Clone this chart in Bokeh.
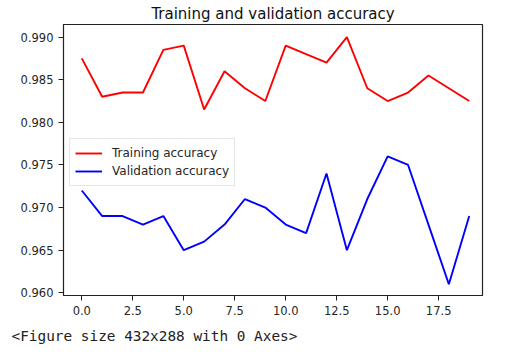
from bokeh.plotting import figure
from bokeh.models import Range1d, FixedTicker, NumeralTickFormatter, Legend, LegendItem, Title
from bokeh.embed import file_html
from bokeh.resources import INLINE

epochs = list(range(20))
train_acc = [0.9875, 0.983, 0.9835, 0.9835, 0.9885, 0.989, 0.9815, 0.986, 0.984, 0.9825,
             0.989, 0.988, 0.987, 0.990, 0.984, 0.9825, 0.9835, 0.9855, 0.984, 0.9825]
val_acc = [0.972, 0.969, 0.969, 0.968, 0.969, 0.965, 0.966, 0.968, 0.971, 0.970,
           0.968, 0.967, 0.974, 0.965, 0.971, 0.976, 0.975, 0.968, 0.961, 0.969]
x_ticks = [0.0, 2.5, 5.0, 7.5, 10.0, 12.5, 15.0, 17.5]
y_ticks = [0.960, 0.965, 0.970, 0.975, 0.980, 0.985, 0.990]

p = figure(width=500, height=354, output_backend="svg", toolbar_location=None,
           x_range=Range1d(-0.897, 19.65), y_range=Range1d(0.95968, 0.99148),
           min_border_left=63, min_border_right=18, min_border_top=23, min_border_bottom=59)
p.title.text = "Training and validation accuracy"
p.title.align = "center"
p.title.text_font = "DejaVu Sans"
p.title.text_font_size = "15px"
p.title.text_font_style = "normal"
p.title.text_color = "#111111"
p.title.standoff = 4

l1 = p.line(epochs, train_acc, line_color="#ff0000", line_width=1.9)
l2 = p.line(epochs, val_acc, line_color="#0000ff", line_width=1.9)

p.grid.visible = False
p.outline_line_color = "#222222"
p.outline_line_width = 1.2
p.background_fill_color = "white"
p.border_fill_color = "white"

for ax in (p.xaxis[0], p.yaxis[0]):
    ax.axis_line_color = "#222222"
    ax.major_tick_line_color = "#222222"
    ax.major_tick_out = 5
    ax.major_tick_in = 0
    ax.minor_tick_line_color = None
    ax.major_label_text_font = "DejaVu Sans"
    ax.major_label_text_font_size = "11.5px"
    ax.major_label_text_color = "#262626"
    ax.major_label_standoff = 5

p.xaxis.ticker = FixedTicker(ticks=x_ticks)
p.xaxis.formatter = NumeralTickFormatter(format="0.0")
p.yaxis.ticker = FixedTicker(ticks=y_ticks)
p.yaxis.formatter = NumeralTickFormatter(format="0.000")

legend = Legend(items=[LegendItem(label="Training accuracy", renderers=[l1]),
                       LegendItem(label="Validation accuracy", renderers=[l2])],
                location=(6, 109), label_text_font="DejaVu Sans", label_text_font_size="12px",
                label_text_color="#262626", glyph_width=27, glyph_height=18, label_height=18,
                label_standoff=10, spacing=0, padding=5, margin=0,
                border_line_color="#cccccc", border_line_width=1, background_fill_alpha=0.8)
p.add_layout(legend, "center")

note = Title(text="<Figure size 432x288 with 0 Axes>", align="left", offset=-52,
             text_font="DejaVu Sans Mono", text_font_size="14.4px", text_font_style="normal",
             text_color="#222222", standoff=17)
p.add_layout(note, "below")

open("out.html", "w").write(file_html(p, INLINE))
